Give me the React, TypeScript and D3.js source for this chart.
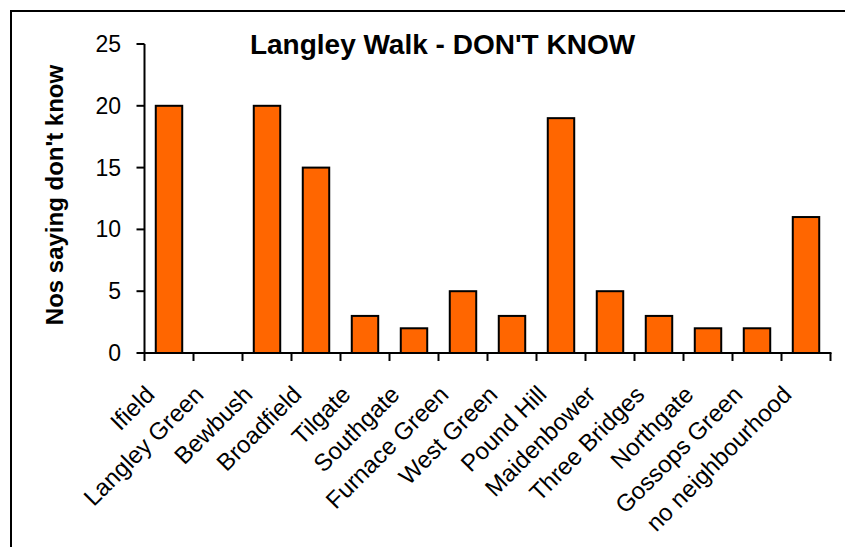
import React from "react";
import * as d3 from "d3";

const categories = [
  "Ifield",
  "Langley Green",
  "Bewbush",
  "Broadfield",
  "Tilgate",
  "Southgate",
  "Furnace Green",
  "West Green",
  "Pound Hill",
  "Maidenbower",
  "Three Bridges",
  "Northgate",
  "Gossops Green",
  "no neighbourhood",
];
const values = [20, 0, 20, 15, 3, 2, 5, 3, 19, 5, 3, 2, 2, 11];
const yTicks = [0, 5, 10, 15, 20, 25];
const title = "Langley Walk - DON'T KNOW";
const yLabel = "Nos saying don't know";

export default function App() {
  const W = 845;
  const H = 547;
  const left = 144.5;
  const right = 830.5;
  const top = 44;
  const bottom = 353;
  const font = "'Liberation Sans', Arial, sans-serif";

  const x = d3
    .scaleBand<string>()
    .domain(categories)
    .range([left, right])
    .paddingInner(0.46)
    .paddingOuter(0.23);
  const y = d3.scaleLinear().domain([0, 25]).range([bottom, top]);
  const step = x.step();
  const boundaries = d3.range(categories.length + 1).map((i) => left + i * step);

  return (
    <svg
      width={W}
      height={H}
      style={{ position: "absolute", left: 0, top: 0, background: "#fff" }}
    >
      <rect x={0} y={0} width={W} height={H} fill="#fff" />
      <rect x={11} y={11} width={W + 20} height={H + 20} fill="none" stroke="#000" strokeWidth={2} />
      <text
        x={442.5}
        y={54}
        textAnchor="middle"
        fontFamily={font}
        fontWeight="bold"
        fontSize={28}
      >
        {title}
      </text>
      <text
        transform={`translate(63,195) rotate(-90)`}
        textAnchor="middle"
        fontFamily={font}
        fontWeight="bold"
        fontSize={24}
      >
        {yLabel}
      </text>
      {categories.map((c, i) => (
        <rect
          key={c}
          x={x(c)}
          y={y(values[i])}
          width={x.bandwidth()}
          height={bottom - y(values[i])}
          fill="#FF6600"
          stroke="#000"
          strokeWidth={2}
          visibility={values[i] > 0 ? "visible" : "hidden"}
        />
      ))}
      <line x1={left} x2={left} y1={top} y2={bottom} stroke="#000" strokeWidth={2} />
      {yTicks.map((t) => (
        <g key={t}>
          <line x1={left - 8} x2={left} y1={y(t)} y2={y(t)} stroke="#000" strokeWidth={2} />
          <text
            x={121}
            y={y(t)}
            dy="0.35em"
            textAnchor="end"
            fontFamily={font}
            fontSize={23}
          >
            {t}
          </text>
        </g>
      ))}
      <line x1={left - 1} x2={right + 1} y1={bottom} y2={bottom} stroke="#000" strokeWidth={2} />
      {boundaries.map((b, i) => (
        <line key={i} x1={b} x2={b} y1={bottom} y2={bottom + 8} stroke="#000" strokeWidth={2} />
      ))}
      {categories.map((c) => {
        const cx = (x(c) as number) + x.bandwidth() / 2;
        return (
          <text
            key={c}
            transform={`translate(${cx - 13},${bottom + 43}) rotate(-45)`}
            textAnchor="end"
            fontFamily={font}
            fontSize={24}
          >
            {c}
          </text>
        );
      })}
    </svg>
  );
}
